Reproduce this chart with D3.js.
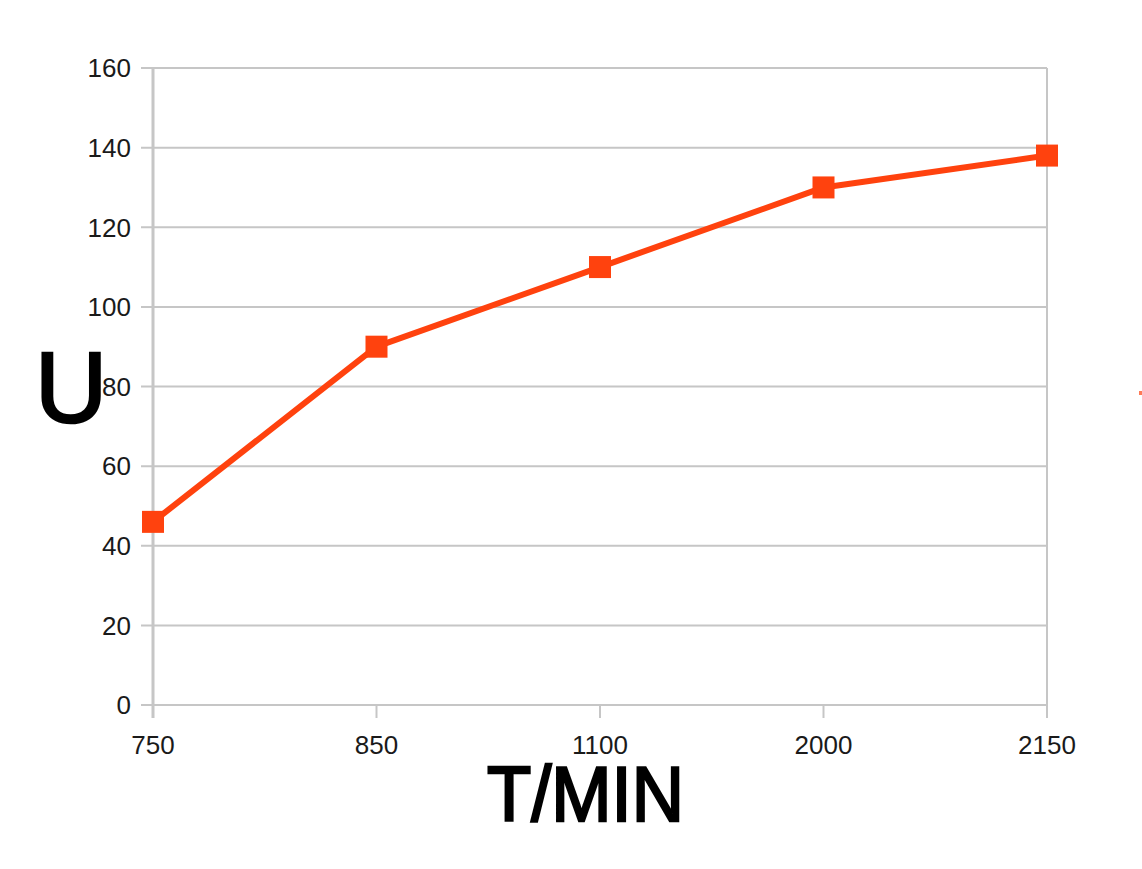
<!DOCTYPE html>
<html><head><meta charset="utf-8">
<script src="https://cdn.jsdelivr.net/npm/d3@7"></script>
<style>html,body{margin:0;padding:0;background:#fff;}svg{display:block;}</style>
</head><body>
<script>
const categories = ["750", "850", "1100", "2000", "2150"];
const values = [46, 90, 110, 130, 138];
const yTicks = [0, 20, 40, 60, 80, 100, 120, 140, 160];

(function () {
const W = 1142, H = 869;
const svg = d3.select("body").append("svg").attr("width", W).attr("height", H);
const pLeft = 153, pRight = 1047, pTop = 68, pBottom = 705;
const x = d3.scalePoint().domain(categories).range([pLeft, pRight]).padding(0);
const y = d3.scaleLinear().domain([0, 160]).range([pBottom, pTop]);
const font = "'Liberation Sans', Arial, sans-serif";
const grid = "#c6c6c6";

// gridlines with left tick extensions
svg.append("g").selectAll("line").data(yTicks).join("line")
  .attr("x1", pLeft - 12).attr("x2", pRight)
  .attr("y1", d => y(d)).attr("y2", d => y(d))
  .attr("stroke", grid).attr("stroke-width", 2);
// right border
svg.append("line").attr("x1", pRight).attr("x2", pRight).attr("y1", pTop).attr("y2", pBottom)
  .attr("stroke", grid).attr("stroke-width", 2);
// x tick marks
svg.append("g").selectAll("line").data(categories).join("line")
  .attr("x1", d => x(d)).attr("x2", d => x(d)).attr("y1", pBottom).attr("y2", pBottom + 13)
  .attr("stroke", grid).attr("stroke-width", 2);
// y axis line
svg.append("line").attr("x1", pLeft).attr("x2", pLeft).attr("y1", pTop).attr("y2", pBottom + 13)
  .attr("stroke", grid).attr("stroke-width", 3);

// y labels
svg.append("g").selectAll("text").data(yTicks).join("text")
  .attr("x", 131).attr("y", d => y(d)).attr("dy", "0.36em")
  .attr("text-anchor", "end").attr("font-family", font).attr("font-size", 26)
  .attr("fill", "#1a1a1a").text(d => d);
// x labels
svg.append("g").selectAll("text").data(categories).join("text")
  .attr("x", d => x(d)).attr("y", 754)
  .attr("text-anchor", "middle").attr("font-family", font).attr("font-size", 26)
  .attr("fill", "#1a1a1a").text(d => d);

// line
const color = "#ff420e";
svg.append("path").datum(values)
  .attr("d", d3.line().x((d, i) => x(categories[i])).y(d => y(d)))
  .attr("fill", "none").attr("stroke", color).attr("stroke-width", 6).attr("stroke-linejoin", "round");
svg.append("g").selectAll("rect").data(values).join("rect")
  .attr("x", (d, i) => x(categories[i]) - 11).attr("y", d => y(d) - 11)
  .attr("width", 22).attr("height", 22).attr("fill", color);

// clipped legend fragment
svg.append("rect").attr("x", 1139).attr("y", 391).attr("width", 4).attr("height", 4).attr("fill", color).attr("opacity", 0.7);

// axis titles
svg.append("text").attr("x", 35).attr("y", 422).attr("font-family", font).attr("font-size", 100)
  .attr("fill", "#000").attr("stroke", "#000").attr("stroke-width", 2.5).text("U");
svg.append("text").attr("x", 487).attr("y", 821).attr("font-family", font).attr("font-size", 78)
  .attr("textLength", 197).attr("lengthAdjust", "spacingAndGlyphs")
  .attr("fill", "#000").attr("stroke", "#000").attr("stroke-width", 2.5).text("T/MIN");
})();
</script>
</body></html>
